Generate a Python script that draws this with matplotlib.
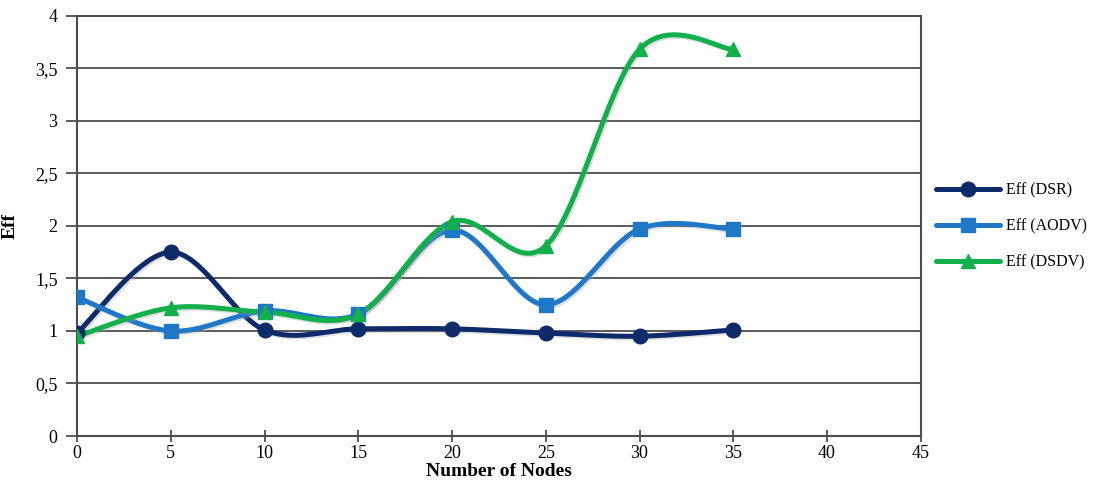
import numpy as np
import matplotlib
matplotlib.use('Agg')
import matplotlib.pyplot as plt
import matplotlib.patheffects as pe
from matplotlib.ticker import FuncFormatter

plt.rcParams['font.family'] = ['Liberation Serif', 'DejaVu Serif']

nodes = [0, 5, 10, 15, 20, 25, 30, 35]
eff_dsr = [0.98, 1.75, 1.01, 1.02, 1.02, 0.98, 0.95, 1.01]
eff_aodv = [1.32, 1.00, 1.19, 1.16, 1.96, 1.25, 1.97, 1.97]
eff_dsdv = [0.95, 1.22, 1.18, 1.16, 2.04, 1.81, 3.68, 3.68]


def smooth(x, y, n=40):
    # excel-like smoothing (catmull-rom bezier)
    x = np.asarray(x, float)
    y = np.asarray(y, float)
    P = np.column_stack([x, y])
    out = []
    for i in range(len(P) - 1):
        p0 = P[i - 1] if i > 0 else P[i]
        p1 = P[i]
        p2 = P[i + 1]
        p3 = P[i + 2] if i + 2 < len(P) else P[i + 1]
        c1 = p1 + (p2 - p0) / 6.0
        c2 = p2 - (p3 - p1) / 6.0
        t = np.linspace(0, 1, n)[:, None]
        seg = ((1 - t) ** 3) * p1 + 3 * ((1 - t) ** 2) * t * c1 + 3 * (1 - t) * t ** 2 * c2 + t ** 3 * p2
        out.append(seg if i == 0 else seg[1:])
    s = np.vstack(out)
    return s[:, 0], s[:, 1]


fig = plt.figure(figsize=(11.08, 4.82), dpi=100)
ax = fig.add_axes([0.0695, 0.0954, 0.7615, 0.872])

series = [
    ('Eff (DSR)', eff_dsr, '#0D2A6B', 'o'),
    ('Eff (AODV)', eff_aodv, '#1F77C8', 's'),
    ('Eff (DSDV)', eff_dsdv, '#12B04A', '^'),
]

shadow = [pe.SimpleLineShadow(offset=(1.2, -1.2), shadow_color='#a0a0a0', alpha=0.35), pe.Normal()]
handles = []
for name, vals, col, mk in series:
    sx, sy = smooth(nodes, vals)
    ax.plot(sx, sy, color=col, lw=3.6, solid_capstyle='round', zorder=3, path_effects=shadow)
    ax.plot(nodes, vals, ls='none', marker=mk, ms=10.5, color=col, zorder=4)
    h, = ax.plot([], [], color=col, lw=3.6, marker=mk, ms=10.5, solid_capstyle='round')
    handles.append(h)

ax.set_xlim(0, 45)
ax.set_ylim(0, 4)
ax.set_xticks(range(0, 50, 5))
ax.set_yticks(np.arange(0, 4.5, 0.5))
ax.yaxis.set_major_formatter(FuncFormatter(lambda v, p: ('%g' % v).replace('.', ',')))
ax.yaxis.grid(True, color='#4d4d4d', lw=1.3)
ax.set_axisbelow(True)
for s in ax.spines.values():
    s.set_color('#4d4d4d')
    s.set_linewidth(1.5)
ax.tick_params(axis='x', direction='inout', length=9, width=1.3, color='#4d4d4d', labelsize=13, pad=2)
ax.tick_params(axis='y', direction='out', length=8, width=1.3, color='#4d4d4d', labelsize=13, pad=6)
ax.set_xlabel('Number of Nodes', fontsize=14, fontweight='bold', labelpad=1)
ax.set_ylabel('Eff', fontsize=14, fontweight='bold', labelpad=12)

fig.legend(handles, [s[0] for s in series], loc='center left', bbox_to_anchor=(0.836, 0.53),
           frameon=False, fontsize=11.5, handlelength=4.0, labelspacing=1.25, handletextpad=0.4,
           borderaxespad=0.2)

fig.savefig('out.png', dpi=100)
